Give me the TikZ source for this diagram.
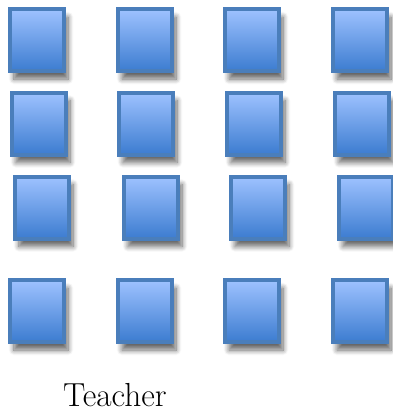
\documentclass[tikz,border=0pt]{standalone}
\usepackage{tikz}
\usetikzlibrary{shadows.blur}
\definecolor{seatedge}{RGB}{74,126,187}
\definecolor{seattop}{RGB}{158,194,255}
\definecolor{seatbottom}{RGB}{60,124,208}
\begin{document}
\begin{tikzpicture}[x=0.75pt,y=-0.75pt]
\tikzstyle{seat}=[rectangle, draw=seatedge, line width=3pt, top color=seattop, bottom color=seatbottom, minimum width=40.5pt, minimum height=46.5pt, inner sep=0pt, outer sep=0pt, blur shadow={shadow xshift=3pt, shadow yshift=-6pt, shadow blur steps=8, shadow blur radius=4pt, shadow opacity=60}]
\useasboundingbox (0,0) rectangle (393,415);
\node[seat] (s11) at (37,40)  {};
\node[seat] (s12) at (145,40)  {};
\node[seat] (s13) at (252,40)  {};
\node[seat] (s14) at (360,40)  {};
\node[seat] (s21) at (39,123.5)  {};
\node[seat] (s22) at (146,123.5)  {};
\node[seat] (s23) at (254,123.5)  {};
\node[seat] (s24) at (362,123.5)  {};
\node[seat] (s31) at (42,207.5)  {};
\node[seat] (s32) at (151,207.5)  {};
\node[seat] (s33) at (258,207.5)  {};
\node[seat] (s34) at (366,207.5)  {};
\node[seat] (s41) at (37,311)  {};
\node[seat] (s42) at (145,311)  {};
\node[seat] (s43) at (252,311)  {};
\node[seat] (s44) at (360,311)  {};

\node[anchor=base, font=\fontsize{25}{28}\selectfont, inner sep=0pt] (teacher) at (115,406) {Teacher};
\end{tikzpicture}
\end{document}
